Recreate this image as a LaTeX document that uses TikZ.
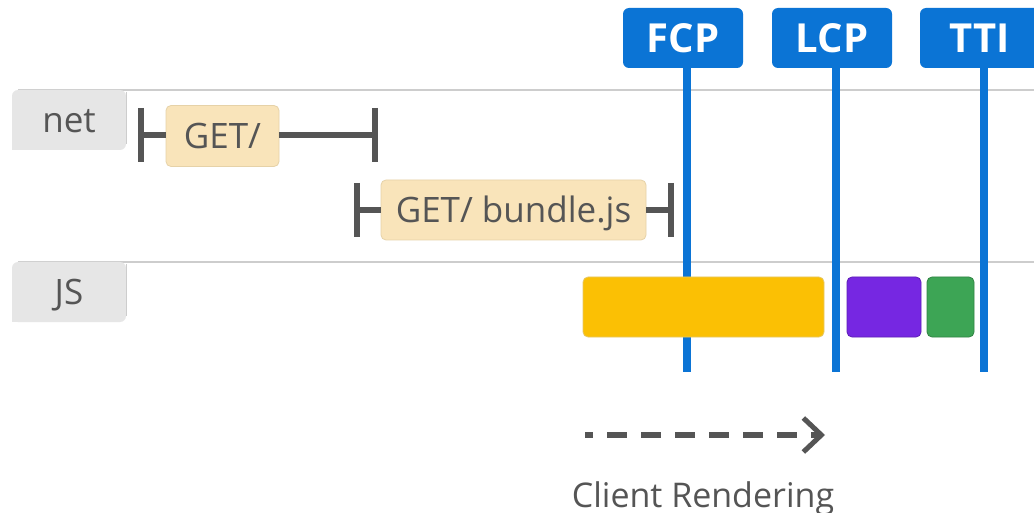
\documentclass[tikz,border=0pt]{standalone}
\usepackage{fontspec}
\setmainfont{Open Sans}
\usetikzlibrary{arrows.meta,calc}
\definecolor{txtgray}{HTML}{555555}
\definecolor{tabgray}{HTML}{E6E6E6}
\definecolor{trackgray}{HTML}{CDCDCD}
\definecolor{reqfill}{HTML}{F9E4BA}
\definecolor{reqline}{HTML}{E6D2A8}
\definecolor{mblue}{HTML}{0B74D5}
\definecolor{jsyellow}{HTML}{FBC004}
\definecolor{jspurple}{HTML}{7627E2}
\definecolor{jsgreen}{HTML}{3DA555}
\tikzset{
  tabbox/.style={fill=tabgray, rounded corners=6pt, minimum width=114pt, minimum height=60pt,
    inner sep=0pt, text=txtgray, font=\fontsize{35}{38}\selectfont, text height=25pt, text depth=0pt},
  trackline/.style={draw=trackgray, line width=1.6pt},
  reqbox/.style={fill=reqfill, draw=reqline, line width=0.8pt, rounded corners=5pt, minimum height=61pt,
    inner sep=0pt, text=txtgray, font=\fontsize{35}{38}\selectfont, text height=25pt, text depth=0pt},
  whisker/.style={draw=txtgray, line width=5.5pt},
  markbox/.style={fill=mblue, rounded corners=6pt, minimum width=120pt, minimum height=60pt,
    inner sep=0pt, text=white, font=\fontsize{40}{44}\bfseries\selectfont, text height=28.5pt, text depth=0pt},
  markline/.style={draw=mblue, line width=8pt},
  jsbar/.style={rounded corners=5pt, line width=0.8pt},
  dasharrow/.style={draw=txtgray, line width=6pt, dash pattern=on 20pt off 14pt, dash phase=12pt,
    -{Straight Barb[length=18pt,width=34pt,line width=5pt]}},
  caption/.style={text=txtgray, font=\fontsize{34}{37}\selectfont, inner sep=0pt, anchor=base}
}
\begin{document}
\begin{tikzpicture}[x=1pt,y=-1pt]
\useasboundingbox (0,0) rectangle (1034,513);
\fill[white] (0,0) rectangle (1034,513);

% track lines
\coordinate (netL) at (18,90);
\coordinate (netR) at (1034,90);
\coordinate (jsL) at (18,262);
\coordinate (jsR) at (1034,262);
\draw[trackline] (netL) -- (netR);
\draw[trackline] (jsL) -- (jsR);

% row tabs
\node[tabbox] (net) at (69,120) {net};
\fill[tabgray] (net.south west) rectangle ++(8,-8);
\draw[trackgray, line width=0.8pt] ($(net.north east)+(0,2)$) -- ($(net.south east)+(0,-6)$);
\node[tabbox] (js) at (69,292) {JS};
\fill[tabgray] (js.south west) rectangle ++(8,-8);
\draw[trackgray, line width=0.8pt] ($(js.north east)+(0,2)$) -- ($(js.south east)+(0,-6)$);

% network requests
\node[reqbox, minimum width=113pt] (get1) at (222.5,136) {GET/};
\node[reqbox, minimum width=265pt, minimum height=60pt] (get2) at (513.5,210) {GET/ bundle.js};

\coordinate (g1l) at (141,135);
\coordinate (g1r) at (375,135);
\coordinate (g2l) at (357,210);
\coordinate (g2r) at (671,210);
\draw[whisker] (g1l) -- (get1.west |- g1l);
\draw[whisker] (get1.east |- g1r) -- (g1r);
\draw[whisker] ($(g1l)+(0,-27)$) -- ($(g1l)+(0,27)$);
\draw[whisker] ($(g1r)+(0,-27)$) -- ($(g1r)+(0,27)$);
\draw[whisker] (g2l) -- (get2.west |- g2l);
\draw[whisker] (get2.east |- g2r) -- (g2r);
\draw[whisker] ($(g2l)+(0,-27)$) -- ($(g2l)+(0,27)$);
\draw[whisker] ($(g2r)+(0,-27)$) -- ($(g2r)+(0,27)$);

% metric markers
\node[markbox] (fcp) at (683,38) {FCP};
\node[markbox] (lcp) at (832,38) {LCP};
\node[markbox] (tti) at (980,38) {TTI};
\coordinate (fcpT) at (687,60);
\coordinate (fcpB) at (687,372);
\coordinate (lcpT) at (836,60);
\coordinate (lcpB) at (836,372);
\coordinate (ttiT) at (984,60);
\coordinate (ttiB) at (984,372);
\draw[markline] (fcpT) -- (fcpB);
\draw[markline] (lcpT) -- (lcpB);
\draw[markline] (ttiT) -- (ttiB);

% JS tasks
\draw[jsbar, fill=jsyellow, draw=jsyellow!85!black!60!white] (583,277) rectangle (824,337);
\draw[jsbar, fill=jspurple, draw=jspurple!80!black] (847,277) rectangle (921,337);
\draw[jsbar, fill=jsgreen, draw=jsgreen!80!black] (927,277) rectangle (974,337);

% client rendering arrow
\coordinate (crS) at (585,435);
\coordinate (crE) at (825,435);
\draw[dasharrow] (crS) -- (crE);
\node[caption] (cr) at (703,507) {Client Rendering};
\end{tikzpicture}
\end{document}
